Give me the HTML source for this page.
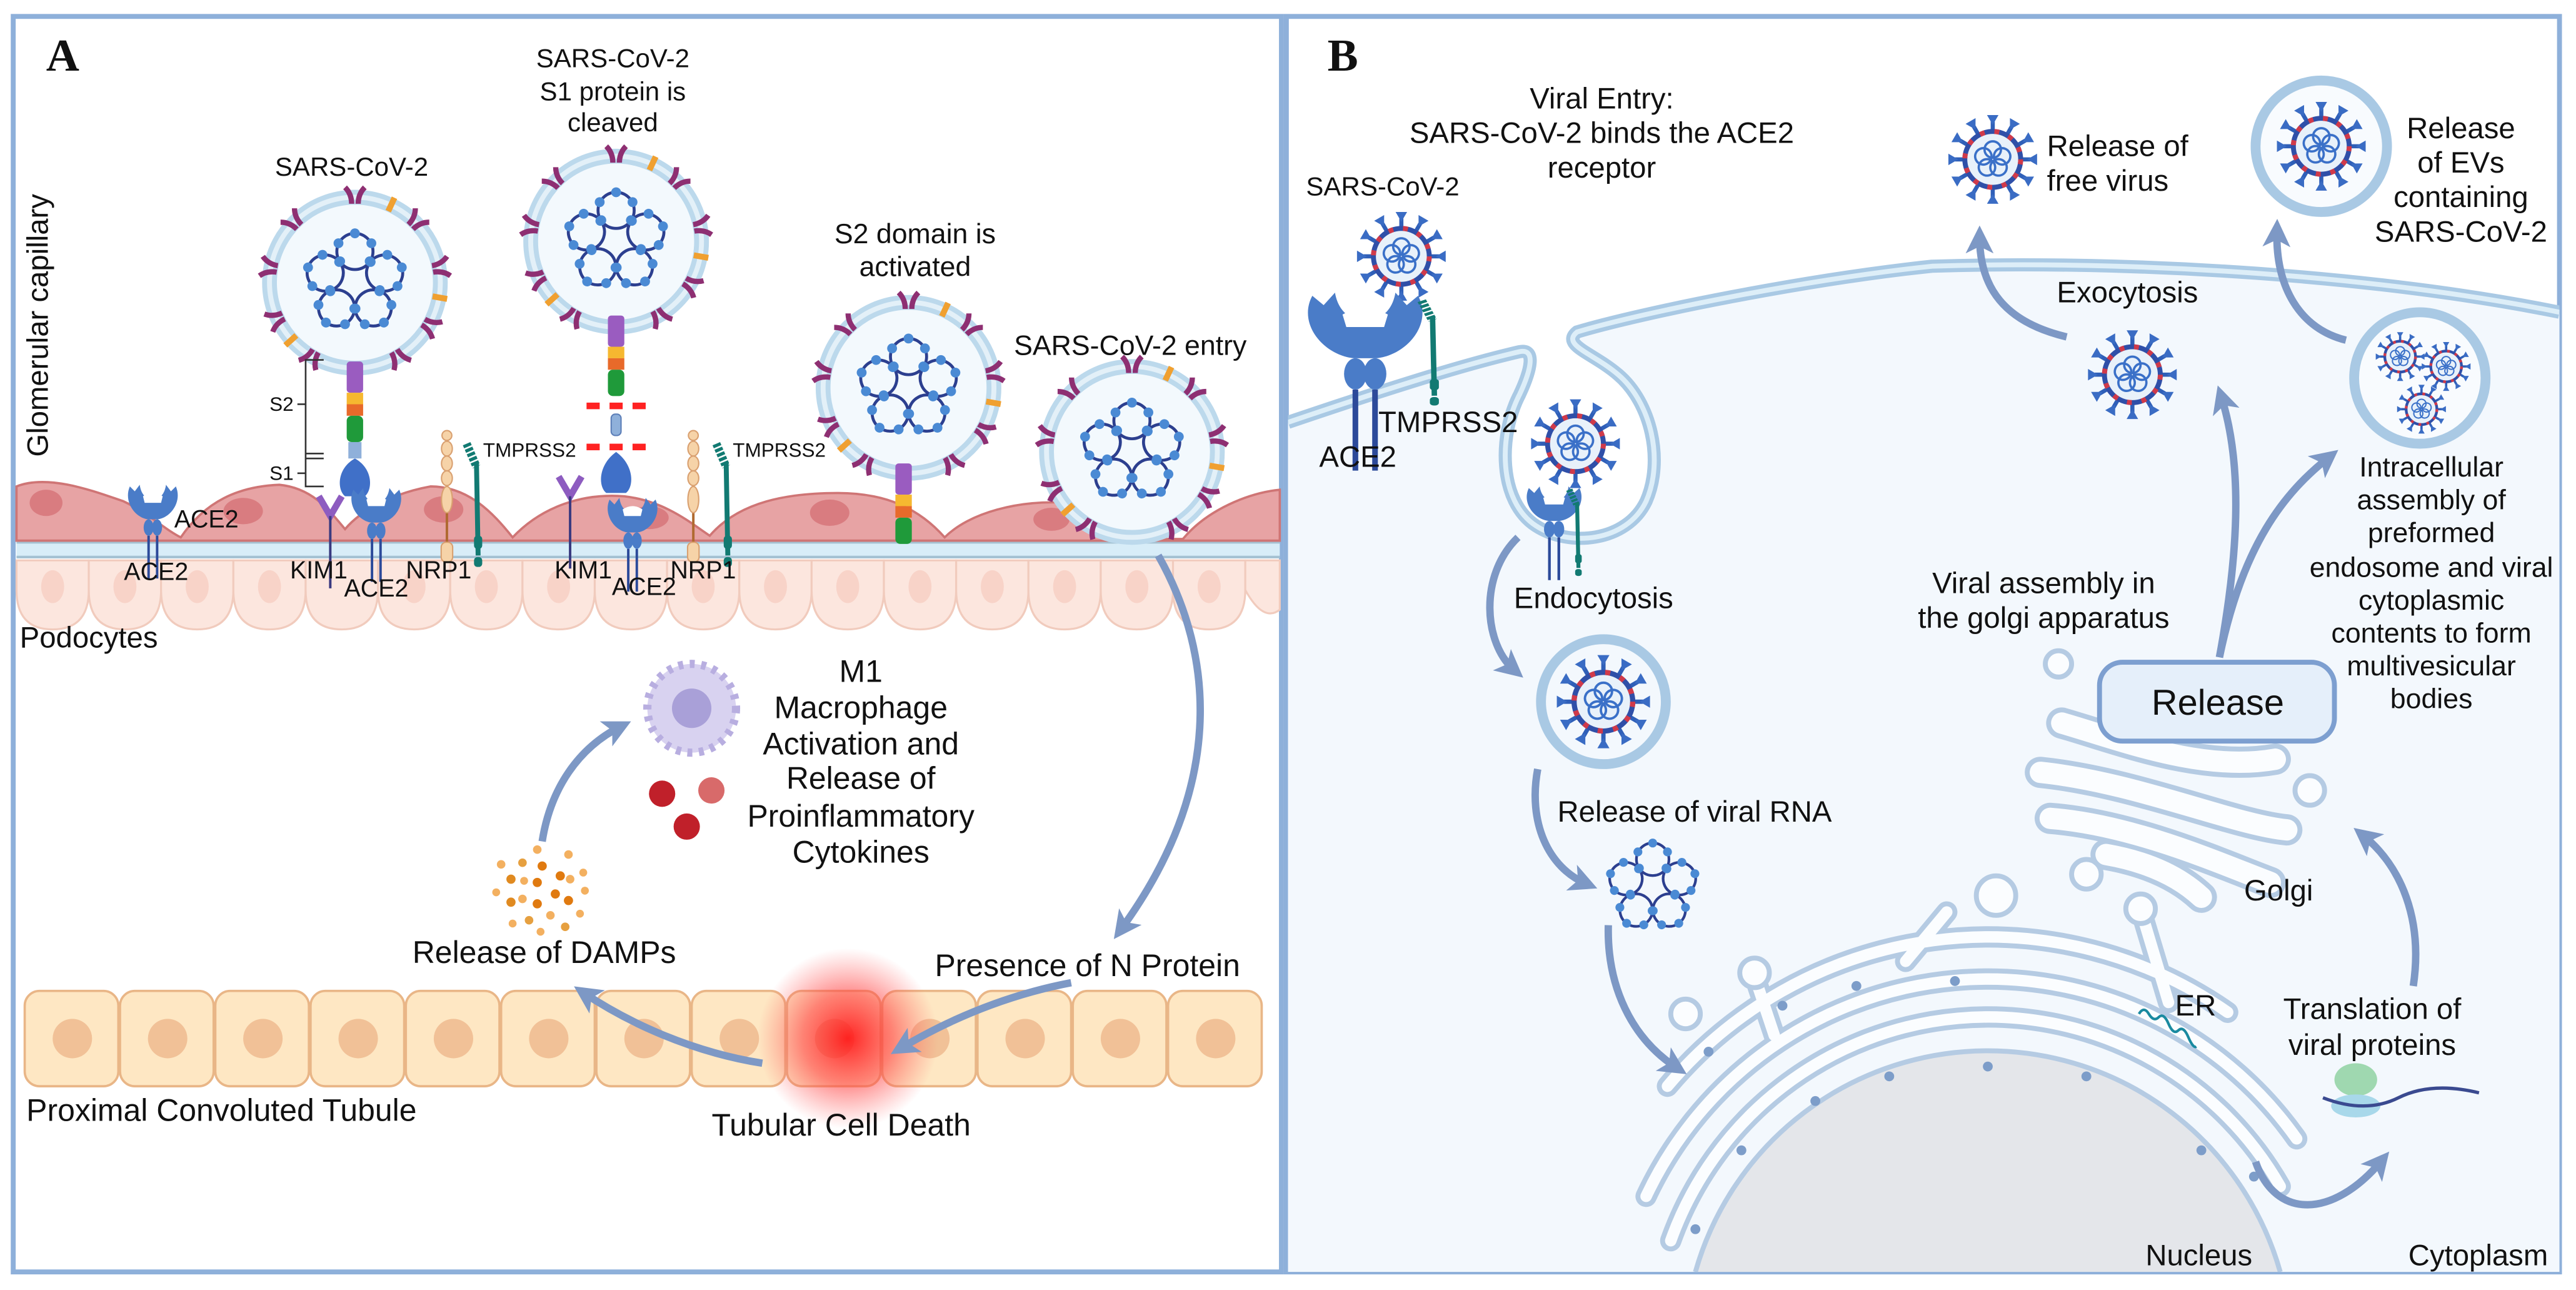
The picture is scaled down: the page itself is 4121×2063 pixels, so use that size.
<!DOCTYPE html>
<html><head><meta charset="utf-8"><style>
html,body{margin:0;padding:0;background:#fff;width:4121px;height:2063px;overflow:hidden}
svg{display:block}
text{font-family:"Liberation Sans",sans-serif;fill:#111}
.c{text-anchor:middle}
</style></head><body>
<svg width="4121" height="2063" viewBox="0 0 1568 785" xmlns="http://www.w3.org/2000/svg">
<defs>
<marker id="ah" viewBox="0 0 10 10" refX="6" refY="5" markerWidth="17" markerHeight="17" markerUnits="userSpaceOnUse" orient="auto"><path d="M0,0 L10,5 L0,10 L2.5,5 Z" fill="#7d98c5"/></marker>
<radialGradient id="glow"><stop offset="0" stop-color="#ff1a1a" stop-opacity="0.95"/><stop offset="0.5" stop-color="#ff4040" stop-opacity="0.6"/><stop offset="1" stop-color="#ff6060" stop-opacity="0"/></radialGradient>
<clipPath id="cb"><rect x="784" y="10" width="774" height="764"/></clipPath>
<g id="lp"><circle cx="0" cy="-19" r="11" fill="none" stroke="#2c3f8f" stroke-width="1.8"/><circle cx="-9" cy="-13" r="3" fill="#4a8ad4"/><circle cx="-10" cy="-24" r="3" fill="#4a8ad4"/><circle cx="0" cy="-30" r="3" fill="#4a8ad4"/><circle cx="10" cy="-24" r="3" fill="#4a8ad4"/><circle cx="9" cy="-13" r="3" fill="#4a8ad4"/></g>
<g id="sp"><path d="M-6,-58 Q-2,-54 -2,-48 M6,-58 Q2,-54 2,-48" stroke="#8e2f72" stroke-width="3.2" fill="none"/></g>
<g id="va">
<circle r="52" fill="#f3f9fd" stroke="#bcd9ec" stroke-width="9"/>
<circle r="52" fill="none" stroke="#e3f0f8" stroke-width="3"/>
<use href="#sp"/><use href="#sp" transform="rotate(45)"/><use href="#sp" transform="rotate(80)"/><use href="#sp" transform="rotate(120)"/><use href="#sp" transform="rotate(150)"/><use href="#sp" transform="rotate(210)"/><use href="#sp" transform="rotate(245)"/><use href="#sp" transform="rotate(280)"/><use href="#sp" transform="rotate(315)"/>
<rect x="-1.8" y="-57" width="3.6" height="9" fill="#f0a030" transform="rotate(25)"/><rect x="-1.8" y="-57" width="3.6" height="9" fill="#f0a030" transform="rotate(100)"/><rect x="-1.8" y="-57" width="3.6" height="9" fill="#f0a030" transform="rotate(228)"/>
<use href="#lp"/><use href="#lp" transform="rotate(72)"/><use href="#lp" transform="rotate(144)"/><use href="#lp" transform="rotate(216)"/><use href="#lp" transform="rotate(288)"/>
</g>
<g id="bs"><line y1="-17" y2="-23" stroke="#2f5fb8" stroke-width="2.5"/><path d="M-3.5,-27 L3.5,-27 L0,-21Z" fill="#3a6cc4"/></g>
<g id="sl"><circle cx="0" cy="-6" r="5" fill="none" stroke="#3a70c8" stroke-width="1.4"/></g>
<g id="vb">
<use href="#bs"/><use href="#bs" transform="rotate(30)"/><use href="#bs" transform="rotate(60)"/><use href="#bs" transform="rotate(90)"/><use href="#bs" transform="rotate(120)"/><use href="#bs" transform="rotate(150)"/><use href="#bs" transform="rotate(180)"/><use href="#bs" transform="rotate(210)"/><use href="#bs" transform="rotate(240)"/><use href="#bs" transform="rotate(270)"/><use href="#bs" transform="rotate(300)"/><use href="#bs" transform="rotate(330)"/>
<circle r="17" fill="#e8f1fa" stroke="#2f4fa8" stroke-width="3"/>
<circle r="17" fill="none" stroke="#d03a4a" stroke-width="3" stroke-dasharray="3 6"/>
<use href="#sl"/><use href="#sl" transform="rotate(72)"/><use href="#sl" transform="rotate(144)"/><use href="#sl" transform="rotate(216)"/><use href="#sl" transform="rotate(288)"/>
</g>
<g id="ace">
<path d="M-14,0 C-18,9 -11,19 -3,20 L3,20 C11,19 18,9 14,0 L11,3 L8,-1 C7,6 3,8 0,8 C-3,8 -7,6 -8,-1 L-11,3 Z" fill="#4a7cc8"/>
<path d="M-6,6 Q0,2 6,6 L5,10 L-5,10 Z" fill="#fff"/>
<ellipse cx="-2.6" cy="25" rx="3" ry="5" fill="#4a7cc8"/><ellipse cx="2.6" cy="25" rx="3" ry="5" fill="#4a7cc8"/>
<line x1="-2.6" y1="30" x2="-2.6" y2="56" stroke="#2c4a9a" stroke-width="1.5"/><line x1="2.6" y1="30" x2="2.6" y2="56" stroke="#2c4a9a" stroke-width="1.5"/>
</g>
<g id="kim"><path d="M-7,-10 L0,2 L7,-10" stroke="#8d5cc0" stroke-width="4" fill="none"/><line x1="0" y1="2" x2="0" y2="46" stroke="#3a3a80" stroke-width="1.5"/></g>
<g id="nrp"><line x1="0" y1="0" x2="0" y2="78" stroke="#b06a30" stroke-width="1.5"/><circle cy="3" r="3" fill="#f6d3a8" stroke="#d9a070" stroke-width="0.8"/><ellipse cy="11" rx="3.3" ry="4.5" fill="#f6d3a8" stroke="#d9a070" stroke-width="0.8"/><ellipse cy="20" rx="3.3" ry="4.5" fill="#f6d3a8" stroke="#d9a070" stroke-width="0.8"/><ellipse cy="29" rx="3.3" ry="4.5" fill="#f6d3a8" stroke="#d9a070" stroke-width="0.8"/><ellipse cy="42" rx="3.3" ry="8" fill="#f6d3a8" stroke="#d9a070" stroke-width="0.8"/><rect x="-3.5" y="68" width="7" height="12" rx="3" fill="#f6d3a8" stroke="#d9a070" stroke-width="0.8"/></g>
<g id="tmp"><path d="M-6,0 L0,14" stroke="#127a72" stroke-width="5" stroke-dasharray="2 1"/><line x1="0" y1="12" x2="1" y2="68" stroke="#127a72" stroke-width="3"/><rect x="-1.5" y="56" width="5" height="8" rx="2" fill="#127a72"/><rect x="-1.5" y="69" width="5" height="6" rx="2" fill="#127a72"/></g>
<g id="stalk"><rect x="-5" y="0" width="10" height="19" rx="2" fill="#9a5cc0"/><rect x="-5" y="19" width="10" height="7" fill="#f6b830"/><rect x="-5" y="26" width="10" height="7" fill="#e86a2a"/><rect x="-5" y="33" width="10" height="16" rx="3" fill="#1f9a3a"/></g>
</defs>

<rect width="1568" height="785" fill="#fff"/>

<!-- PANEL A -->
<rect x="8" y="10" width="772" height="764" fill="#fff" stroke="#8eb0da" stroke-width="3"/>
<text x="28" y="43" style="font-family:'Liberation Serif',serif;font-weight:bold;font-size:28px">A</text>
<text transform="translate(29,198) rotate(-90)" class="c" style="font-size:18px">Glomerular capillary</text>

<g fill="#fce6de" stroke="#f1cbbd" stroke-width="1.2">
<path d="M10,341 h44 v18 q0,24 -22,24 q-22,0 -22,-24z"/><path d="M54,341 h44 v18 q0,24 -22,24 q-22,0 -22,-24z"/><path d="M98,341 h44 v18 q0,24 -22,24 q-22,0 -22,-24z"/><path d="M142,341 h44 v18 q0,24 -22,24 q-22,0 -22,-24z"/><path d="M186,341 h44 v18 q0,24 -22,24 q-22,0 -22,-24z"/><path d="M230,341 h44 v18 q0,24 -22,24 q-22,0 -22,-24z"/><path d="M274,341 h44 v18 q0,24 -22,24 q-22,0 -22,-24z"/><path d="M318,341 h44 v18 q0,24 -22,24 q-22,0 -22,-24z"/><path d="M362,341 h44 v18 q0,24 -22,24 q-22,0 -22,-24z"/><path d="M406,341 h44 v18 q0,24 -22,24 q-22,0 -22,-24z"/><path d="M450,341 h44 v18 q0,24 -22,24 q-22,0 -22,-24z"/><path d="M494,341 h44 v18 q0,24 -22,24 q-22,0 -22,-24z"/><path d="M538,341 h44 v18 q0,24 -22,24 q-22,0 -22,-24z"/><path d="M582,341 h44 v18 q0,24 -22,24 q-22,0 -22,-24z"/><path d="M626,341 h44 v18 q0,24 -22,24 q-22,0 -22,-24z"/><path d="M670,341 h44 v18 q0,24 -22,24 q-22,0 -22,-24z"/><path d="M714,341 h44 v18 q0,24 -22,24 q-22,0 -22,-24z"/><path d="M758,341 h21 v30 q-10,8 -21,-12z"/>
</g>
<g fill="#f8d3c8"><ellipse cx="32" cy="357" rx="7" ry="10"/><ellipse cx="76" cy="357" rx="7" ry="10"/><ellipse cx="120" cy="357" rx="7" ry="10"/><ellipse cx="164" cy="357" rx="7" ry="10"/><ellipse cx="252" cy="357" rx="7" ry="10"/><ellipse cx="296" cy="357" rx="7" ry="10"/><ellipse cx="340" cy="357" rx="7" ry="10"/><ellipse cx="428" cy="357" rx="7" ry="10"/><ellipse cx="472" cy="357" rx="7" ry="10"/><ellipse cx="516" cy="357" rx="7" ry="10"/><ellipse cx="560" cy="357" rx="7" ry="10"/><ellipse cx="604" cy="357" rx="7" ry="10"/><ellipse cx="648" cy="357" rx="7" ry="10"/><ellipse cx="692" cy="357" rx="7" ry="10"/><ellipse cx="736" cy="357" rx="7" ry="10"/></g>
<text x="12" y="394" style="font-size:18px">Podocytes</text>

<rect x="10" y="330" width="769" height="9" fill="#d8edf8"/>
<line x1="10" y1="330" x2="779" y2="330" stroke="#a5c2d3" stroke-width="1.6"/>
<line x1="10" y1="339" x2="779" y2="339" stroke="#a5c2d3" stroke-width="1.6"/>

<path d="M10,329 L10,296 C30,288 60,300 75,305 C90,312 100,322 110,327 C125,305 145,296 170,295 C190,297 200,310 210,322 C220,310 240,300 262,296 C285,296 300,312 312,327 C330,308 355,300 380,302 C405,305 420,318 432,326 C450,305 480,300 510,300 C540,300 560,310 575,327 C590,312 620,304 650,306 C675,310 690,320 700,328 L720,328 C735,310 760,300 779,298 L779,329 Z" fill="#e7a3a4" stroke="#cf7575" stroke-width="1.4"/>
<g fill="#d97c80"><ellipse cx="28" cy="306" rx="10" ry="8"/><ellipse cx="148" cy="311" rx="12" ry="8"/><ellipse cx="270" cy="310" rx="12" ry="8"/><ellipse cx="395" cy="315" rx="12" ry="7"/><ellipse cx="505" cy="312" rx="12" ry="8"/><ellipse cx="640" cy="316" rx="11" ry="7"/></g>

<use href="#va" x="216" y="172"/>
<use href="#va" x="375" y="147"/>
<use href="#va" x="553" y="236"/>
<use href="#stalk" x="216" y="220"/>
<rect x="212" y="269" width="8" height="10" fill="#8fb0da"/>
<use href="#stalk" x="375" y="192"/>
<use href="#stalk" x="550" y="282"/>
<g fill="#f22"><rect x="357" y="245" width="8" height="4"/><rect x="371" y="245" width="8" height="4"/><rect x="385" y="245" width="8" height="4"/><rect x="357" y="270" width="8" height="4"/><rect x="371" y="270" width="8" height="4"/><rect x="385" y="270" width="8" height="4"/></g>
<rect x="372" y="252" width="6" height="13" rx="2.5" fill="#8fb0da" stroke="#5d7fb8" stroke-width="0.8"/>
<path d="M216,279 C205,285 205,298 210,302 L222,302 C227,298 227,285 216,279Z" fill="#4070c8"/>
<path d="M375,275 C364,283 364,296 369,300 L381,300 C386,296 386,283 375,275Z" fill="#4070c8"/>
<path d="M197,219 H186 V296 H197 M186,276 H197 M186,279 H197 M181,246 H186 M181,288 H186" fill="none" stroke="#333" stroke-width="1"/>
<text x="164" y="250" style="font-size:12px">S2</text>
<text x="164" y="292" style="font-size:12px">S1</text>

<use href="#ace" x="93" y="296"/>
<use href="#ace" x="229" y="298"/>
<use href="#ace" x="385" y="304"/>
<use href="#kim" x="201" y="312"/>
<use href="#kim" x="347" y="300"/>
<use href="#nrp" x="272" y="262"/>
<use href="#nrp" x="422" y="262"/>
<use href="#tmp" x="290" y="270"/>
<use href="#tmp" x="442" y="270"/>
<text x="106" y="321" style="font-size:15px">ACE2</text>
<text x="95" y="353" class="c" style="font-size:15px">ACE2</text>
<text x="194" y="352" class="c" style="font-size:15px">KIM1</text>
<text x="229" y="363" class="c" style="font-size:15px">ACE2</text>
<text x="267" y="352" class="c" style="font-size:15px">NRP1</text>
<text x="355" y="352" class="c" style="font-size:15px">KIM1</text>
<text x="392" y="362" class="c" style="font-size:15px">ACE2</text>
<text x="428" y="352" class="c" style="font-size:15px">NRP1</text>
<text x="294" y="278" style="font-size:12px">TMPRSS2</text>
<text x="446" y="278" style="font-size:12px">TMPRSS2</text>

<use href="#va" x="689" y="275"/>

<text x="214" y="107" class="c" style="font-size:16px">SARS-CoV-2</text>
<text x="373" y="41" class="c" style="font-size:16px">SARS-CoV-2</text>
<text x="373" y="61" class="c" style="font-size:16px">S1 protein is</text>
<text x="373" y="80" class="c" style="font-size:16px">cleaved</text>
<text x="557" y="148" class="c" style="font-size:17px">S2 domain is</text>
<text x="557" y="168" class="c" style="font-size:17px">activated</text>
<text x="688" y="216" class="c" style="font-size:17px">SARS-CoV-2 entry</text>

<g transform="translate(421,431)">
<circle r="27" fill="#d8d2f0" stroke="#b8aee0" stroke-width="5" stroke-dasharray="3 4"/>
<circle r="24" fill="#d8d2f0"/>
<circle r="12" fill="#a9a0d8"/>
</g>
<circle cx="403" cy="483" r="8" fill="#c0202a"/>
<circle cx="433" cy="481" r="8" fill="#d86a6a"/>
<circle cx="418" cy="503" r="8" fill="#c0202a"/>
<g style="font-size:19px">
<text x="524" y="415" class="c">M1</text>
<text x="524" y="437" class="c">Macrophage</text>
<text x="524" y="459" class="c">Activation and</text>
<text x="524" y="480" class="c">Release of</text>
<text x="524" y="503" class="c">Proinflammatory</text>
<text x="524" y="525" class="c">Cytokines</text>
</g>

<g fill="#f3b060"><circle cx="327" cy="517" r="2.6"/><circle cx="346" cy="520" r="2.6"/><circle cx="305" cy="526" r="2.6"/><circle cx="318" cy="525" r="2.6" fill="#e6a040"/><circle cx="330" cy="527" r="2.8" fill="#e07a10"/><circle cx="341" cy="533" r="2.8" fill="#e07a10"/><circle cx="355" cy="531" r="2.4"/><circle cx="311" cy="535" r="2.8" fill="#e08a20"/><circle cx="319" cy="536" r="2.4"/><circle cx="327" cy="537" r="2.8" fill="#e07a10"/><circle cx="347" cy="535" r="2.6"/><circle cx="302" cy="543" r="2.4"/><circle cx="318" cy="547" r="2.6"/><circle cx="338" cy="544" r="2.8" fill="#e07a10"/><circle cx="356" cy="542" r="2.4"/><circle cx="311" cy="549" r="2.8" fill="#e08a20"/><circle cx="327" cy="550" r="2.8" fill="#e07a10"/><circle cx="346" cy="548" r="2.8" fill="#e07a10"/><circle cx="335" cy="557" r="2.6"/><circle cx="322" cy="560" r="2.6" fill="#e6a040"/><circle cx="353" cy="556" r="2.4"/><circle cx="312" cy="562" r="2.4"/><circle cx="329" cy="567" r="2.4"/><circle cx="344" cy="564" r="2.6" fill="#e6a040"/></g>
<text x="251" y="586" style="font-size:19px">Release of DAMPs</text>

<g fill="#fee7c3" stroke="#e9b687" stroke-width="1.4">
<rect x="15" y="603" width="57" height="58" rx="9"/><rect x="73" y="603" width="57" height="58" rx="9"/><rect x="131" y="603" width="57" height="58" rx="9"/><rect x="189" y="603" width="57" height="58" rx="9"/><rect x="247" y="603" width="57" height="58" rx="9"/><rect x="305" y="603" width="57" height="58" rx="9"/><rect x="363" y="603" width="57" height="58" rx="9"/><rect x="421" y="603" width="57" height="58" rx="9"/><rect x="479" y="603" width="57" height="58" rx="9"/><rect x="537" y="603" width="57" height="58" rx="9"/><rect x="595" y="603" width="57" height="58" rx="9"/><rect x="653" y="603" width="57" height="58" rx="9"/><rect x="711" y="603" width="57" height="58" rx="9"/>
</g>
<g fill="#f1c197"><circle cx="44" cy="632" r="12"/><circle cx="102" cy="632" r="12"/><circle cx="160" cy="632" r="12"/><circle cx="218" cy="632" r="12"/><circle cx="276" cy="632" r="12"/><circle cx="334" cy="632" r="12"/><circle cx="392" cy="632" r="12"/><circle cx="450" cy="632" r="12"/><circle cx="508" cy="632" r="12"/><circle cx="566" cy="632" r="12"/><circle cx="624" cy="632" r="12"/><circle cx="682" cy="632" r="12"/><circle cx="740" cy="632" r="12"/></g>
<circle cx="516" cy="632" r="55" fill="url(#glow)"/>
<text x="16" y="682" style="font-size:19px">Proximal Convoluted Tubule</text>
<text x="512" y="691" class="c" style="font-size:19px">Tubular Cell Death</text>
<text x="569" y="594" style="font-size:19px">Presence of N Protein</text>

<g fill="none" stroke="#7d98c5" stroke-width="4.5" marker-end="url(#ah)">
<path d="M705,338 C740,400 745,480 682,566"/>
<path d="M652,598 C610,606 575,622 548,638"/>
<path d="M464,647 C420,640 382,622 355,604"/>
<path d="M330,512 C335,480 352,455 378,442"/>
</g>

<!-- PANEL B -->
<rect x="783" y="10" width="775" height="764" fill="#fff" stroke="#8eb0da" stroke-width="3"/>
<g clip-path="url(#cb)">
<path d="M784,257 C840,238 890,222 925,214 C935,212 932,225 925,240 C912,265 912,305 935,320 C955,333 990,330 1002,305 C1013,280 1005,245 985,228 C970,215 950,210 960,202 C1000,190 1100,170 1176,162 C1300,158 1450,168 1558,190 L1558,774 L784,774 Z" fill="#f3f8fd"/>
<path d="M784,257 C840,238 890,222 925,214 C935,212 932,225 925,240 C912,265 912,305 935,320 C955,333 990,330 1002,305 C1013,280 1005,245 985,228 C970,215 950,210 960,202 C1000,190 1100,170 1176,162 C1300,158 1450,168 1558,190" fill="none" stroke="#a9c9e4" stroke-width="8"/>
<path d="M784,257 C840,238 890,222 925,214 C935,212 932,225 925,240 C912,265 912,305 935,320 C955,333 990,330 1002,305 C1013,280 1005,245 985,228 C970,215 950,210 960,202 C1000,190 1100,170 1176,162 C1300,158 1450,168 1558,190" fill="none" stroke="#ddeef8" stroke-width="3"/>

<path d="M1032,774 A185,185 0 0 1 1388,774 Z" fill="#e4e6ea"/>
<path d="M1032,774 A185,185 0 0 1 1388,774" fill="none" stroke="#b5cbe3" stroke-width="3"/>
<g fill="none" stroke-linecap="round">
<g stroke="#b5cbe3" stroke-width="13">
<path d="M1017,755 A205,205 0 0 1 1388,722"/>
<path d="M1002,728 A230,230 0 0 1 1398,693"/>
<path d="M1015,661 A255,255 0 0 1 1356,616"/>
<path d="M1080,630 L1070,600"/><path d="M1160,585 L1185,555"/><path d="M1320,610 L1305,560"/>
</g>
<g stroke="#fbfdff" stroke-width="7">
<path d="M1017,755 A205,205 0 0 1 1388,722"/>
<path d="M1002,728 A230,230 0 0 1 1398,693"/>
<path d="M1015,661 A255,255 0 0 1 1356,616"/>
<path d="M1080,630 L1070,600"/><path d="M1160,585 L1185,555"/><path d="M1320,610 L1305,560"/>
</g>
</g>
<g fill="#fbfdff" stroke="#b5cbe3" stroke-width="3"><circle cx="1026" cy="617" r="9"/><circle cx="1215" cy="545" r="12"/><circle cx="1068" cy="592" r="9"/><circle cx="1303" cy="553" r="9"/></g>
<g fill="#7d9dc9"><circle cx="1032" cy="748" r="3"/><circle cx="1060" cy="700" r="3"/><circle cx="1105" cy="670" r="3"/><circle cx="1150" cy="655" r="3"/><circle cx="1210" cy="649" r="3"/><circle cx="1270" cy="655" r="3"/><circle cx="1340" cy="700" r="3"/><circle cx="1372" cy="716" r="3"/><circle cx="1040" cy="640" r="3"/><circle cx="1085" cy="612" r="3"/><circle cx="1130" cy="600" r="3"/><circle cx="1190" cy="597" r="3"/></g>
<path d="M1302,617 q3,-5 6,0 t6,2 t6,4 t6,4 t6,4 t5,6" fill="none" stroke="#1a8aa0" stroke-width="1.6"/>

<g fill="none" stroke-linecap="round">
<g stroke="#b5cbe3" stroke-width="19"><path d="M1255,440 C1290,450 1340,470 1385,462"/><path d="M1242,470 C1300,476 1360,502 1392,505"/><path d="M1248,498 C1300,502 1355,527 1382,537"/><path d="M1282,520 C1305,524 1325,532 1340,546"/></g>
<g stroke="#fbfdff" stroke-width="13"><path d="M1255,440 C1290,450 1340,470 1385,462"/><path d="M1242,470 C1300,476 1360,502 1392,505"/><path d="M1248,498 C1300,502 1355,527 1382,537"/><path d="M1282,520 C1305,524 1325,532 1340,546"/></g>
</g>
<g fill="#fbfdff" stroke="#b5cbe3" stroke-width="3"><circle cx="1253" cy="404" r="8"/><circle cx="1406" cy="481" r="9"/><circle cx="1270" cy="532" r="9"/></g>
<rect x="1278" y="403" width="143" height="48" rx="14" fill="#e5effa" stroke="#7d9fd0" stroke-width="3"/>
<text x="1350" y="435" class="c" style="font-size:22px">Release</text>

<ellipse cx="1434" cy="657" rx="13" ry="10" fill="#9fd8b0"/>
<ellipse cx="1434" cy="673" rx="15" ry="7" fill="#a8d8ea"/>
<path d="M1414,668 Q1440,678 1460,668 T1509,665" fill="none" stroke="#3a4a90" stroke-width="2"/>
</g>

<circle cx="976" cy="427" r="38" fill="#f3f8fd" stroke="#a9c9e4" stroke-width="6"/>
<use href="#vb" transform="translate(976,427) scale(1.05)"/>
<circle cx="1413" cy="89" r="40" fill="#f8fbfe" stroke="#a9c9e4" stroke-width="6"/>
<use href="#vb" x="1413" y="89"/>
<circle cx="1473" cy="230" r="40" fill="#f8fbfe" stroke="#a9c9e4" stroke-width="6"/>
<use href="#vb" transform="translate(1461,217) scale(0.55)"/>
<use href="#vb" transform="translate(1489,223) scale(0.55)"/>
<use href="#vb" transform="translate(1474,249) scale(0.55)"/>
<use href="#vb" x="1213" y="97"/>
<use href="#vb" x="1298" y="228"/>
<use href="#vb" x="853" y="156"/>
<use href="#vb" x="959" y="270"/>
<g transform="translate(1006,540) scale(0.9)"><use href="#lp"/><use href="#lp" transform="rotate(72)"/><use href="#lp" transform="rotate(144)"/><use href="#lp" transform="rotate(216)"/><use href="#lp" transform="rotate(288)"/></g>

<use href="#ace" transform="translate(831,180) scale(2.3,1.9)"/>
<use href="#tmp" transform="translate(872,183) scale(1.1,0.85)"/>
<use href="#ace" transform="translate(946,297) scale(1.1,1)"/>
<use href="#tmp" transform="translate(960,298) scale(0.8,0.7)"/>

<text x="808" y="43" style="font-family:'Liberation Serif',serif;font-weight:bold;font-size:28px">B</text>
<g style="font-size:18px">
<text x="975" y="66" class="c">Viral Entry:</text>
<text x="975" y="87" class="c">SARS-CoV-2 binds the ACE2</text>
<text x="975" y="108" class="c">receptor</text>
</g>
<text x="795" y="119" style="font-size:16px">SARS-CoV-2</text>
<text x="839" y="263" style="font-size:18px">TMPRSS2</text>
<text x="803" y="284" style="font-size:18px">ACE2</text>
<text x="970" y="370" class="c" style="font-size:18px">Endocytosis</text>
<text x="948" y="500" style="font-size:18px">Release of viral RNA</text>
<text x="1246" y="95" style="font-size:18px">Release of</text>
<text x="1246" y="116" style="font-size:18px">free virus</text>
<g style="font-size:18px">
<text x="1498" y="84" class="c">Release</text>
<text x="1498" y="105" class="c">of EVs</text>
<text x="1498" y="126" class="c">containing</text>
<text x="1498" y="147" class="c">SARS-CoV-2</text>
</g>
<text x="1295" y="184" class="c" style="font-size:18px">Exocytosis</text>
<g style="font-size:17px">
<text x="1480" y="290" class="c">Intracellular</text>
<text x="1480" y="310" class="c">assembly of</text>
<text x="1480" y="330" class="c">preformed</text>
<text x="1480" y="351" class="c">endosome and viral</text>
<text x="1480" y="371" class="c">cytoplasmic</text>
<text x="1480" y="391" class="c">contents to form</text>
<text x="1480" y="411" class="c">multivesicular</text>
<text x="1480" y="431" class="c">bodies</text>
</g>
<text x="1244" y="361" class="c" style="font-size:18px">Viral assembly in</text>
<text x="1244" y="382" class="c" style="font-size:18px">the golgi apparatus</text>
<text x="1366" y="548" style="font-size:18px">Golgi</text>
<text x="1324" y="618" style="font-size:18px">ER</text>
<text x="1444" y="620" class="c" style="font-size:18px">Translation of</text>
<text x="1444" y="642" class="c" style="font-size:18px">viral proteins</text>
<text x="1306" y="770" style="font-size:18px">Nucleus</text>
<text x="1466" y="770" style="font-size:18px">Cytoplasm</text>

<g fill="none" stroke="#7d98c5" stroke-width="4.5" marker-end="url(#ah)">
<path d="M924,327 C900,350 903,392 922,408"/>
<path d="M936,468 C930,500 942,528 966,538"/>
<path d="M979,563 C978,600 993,632 1021,650"/>
<path d="M1373,707 C1385,742 1420,742 1450,706"/>
<path d="M1469,600 C1475,560 1462,527 1438,508"/>
<path d="M1351,400 C1362,340 1366,285 1352,241"/>
<path d="M1351,400 C1365,332 1390,300 1418,278"/>
<path d="M1258,205 C1220,196 1205,175 1205,144"/>
<path d="M1428,207 C1400,200 1385,175 1386,140"/>
</g>
</svg>
</body></html>
